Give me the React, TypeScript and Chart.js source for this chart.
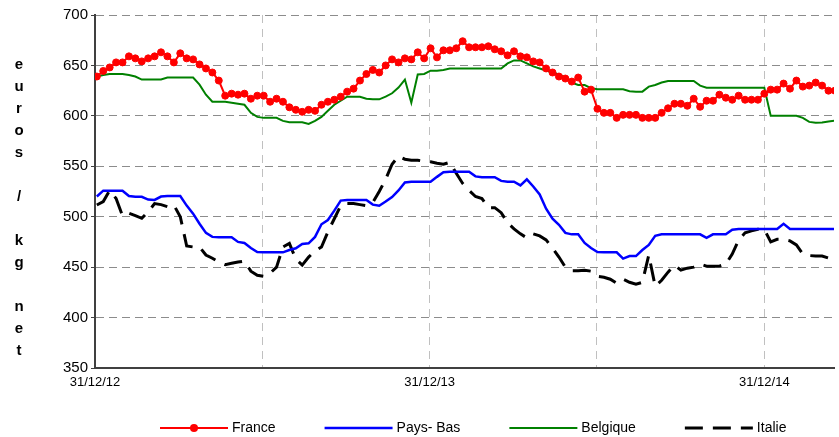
import { useEffect, useRef } from 'react';
import { Chart, registerables } from 'chart.js';

Chart.register(...registerables);

// x positions are days since 31/12/12; weekly observations start on day 2
const START_DAY = 2;
const WEEK_DAYS = 7;
const X_MIN = 0;
const X_MAX = 806;
const xTickDays = [0, 182.5, 365, 547.5, 730];
const xTickLabels = ['31/12/12', '', '31/12/13', '', '31/12/14'];
const yTicks = [350, 400, 450, 500, 550, 600, 650, 700];
const yTitle = 'euros / kg net';
const seriesNames = ['France', 'Pays- Bas', 'Belgique', 'Italie'];

const france = [
  639, 644.5, 648, 653, 653, 659, 657, 654, 657, 659, 663, 659, 653, 662, 657, 656, 651, 647, 643, 635,
  620, 622, 621, 622, 617, 620, 620, 614, 617,
  614, 608.5, 606, 604, 606, 605, 611, 614, 616, 619, 624, 627, 635, 641.5, 645.5, 643, 650, 656, 653, 657,
  656, 663, 657, 667, 658, 665, 665, 667, 674, 668, 668, 668, 669, 666, 664, 660, 664, 659, 658, 654, 653,
  647, 643,
  639, 637, 634, 638, 624, 626, 607, 603, 603, 598, 601, 601, 601, 598, 598, 598, 603, 607.5, 612, 612, 610,
  617, 609, 615, 615, 621, 618, 616, 620, 616, 616, 616, 622, 626, 626, 632, 627, 635, 629, 630, 633, 630,
  625, 625,
];

const paysBas = [
  520, 525.8, 525.8, 525.8, 525.8, 520.5, 519.8, 519.8, 517, 516.6, 520, 520.5, 520.5, 520.5, 511, 503, 493,
  484, 480, 479.6, 479.6, 479.6, 475, 474, 469, 465,
  464.7, 464.7, 464.7, 464.7,
  467, 468.7, 473, 473.6, 480, 492.5, 496.7, 506, 516, 516.6, 516.6, 516.6, 516.6, 512, 510.9, 515, 519.5,
  526, 534, 534.7, 534.7, 534.7, 534.7, 539.5, 544, 544.6, 544.6, 544.6, 544.6,
  540, 539.1, 539.1, 539.1, 535.5, 534.7, 534.7, 531, 537, 530, 522, 508, 498, 492, 484, 482.5, 482.5, 474,
  469, 465, 464.7, 464.7, 464.7, 458.5, 461, 461, 467, 472, 481,
  482.5, 482.5, 482.5, 482.5, 482.5, 482.5, 482.5, 479, 482.5, 482.5, 482.5, 487,
  487.8, 487.8, 487.8, 487.8, 487.8, 487.8, 487.8, 493,
  487.8, 487.8, 487.8, 487.8, 487.8, 487.8, 487.8, 487.8,
];

const belgique = [
  639, 640.5, 641.5, 641.5, 641.5, 640.5, 639, 636, 636, 636, 636, 638, 638, 638, 638, 638, 631, 621, 614,
  614, 614, 613, 612, 611, 603, 599, 598, 598, 598,
  595, 593.6, 593.6, 593.6, 592, 595, 599, 605, 611, 615, 619, 619, 619, 617, 616.4, 616.4, 619, 622.4, 628,
  636, 613, 641, 641.5, 644.8, 644.8, 645.5, 647, 647, 647, 647, 647, 647, 647, 647, 647, 652, 655, 655, 652,
  649,
  647, 645, 643, 641, 638, 633, 630.6, 630.6, 627.5, 626.3, 626.3, 626.3, 626.3, 626.3, 624.5, 624, 624, 629,
  630.6, 633, 634.6, 634.6, 634.6, 634.6, 634.6, 630,
  627.9, 627.9, 627.9, 627.9, 627.9, 627.9, 627.9, 627.9, 627.9, 627.9,
  600, 600, 600, 600, 600, 598, 594, 593.2, 593.5, 594.5, 595.2,
];

const italie = [
  511.6, 515, 526, 518, 501, 503.4, 501, 498.4, 505, 513, 512, 510, 511.6, 500,
  471, 470, 470, 462, 458.8, 455, 452.5, 453.8, 455, 456, 446, 442, 441, 444, 450,
  470, 473.6, 458, 452, 460, 466, 470, 485, 498, 511, 513, 513, 512, 511, 514, 525, 537, 552, 560, 557, 556,
  556, 555, 554.5, 553, 552, 554,
  543, 533, 526, 520, 518, 509, 509, 504, 494, 488, 483, 479, 483, 481, 477, 469, 460, 450, 446.5, 446.5,
  447, 446, 441, 440, 438, 434, 438, 435, 433, 435,
  462, 431, 437, 445, 452, 447, 449, 450, 453, 451, 451, 451, 453, 463, 477, 484, 486, 487.5, 487.5, 475,
  477.6, 477.6, 476, 472, 463, 461.5, 461, 461, 459, 457,
];

const toPoints = (arr: number[]) => arr.map((v, i) => ({ x: START_DAY + i * WEEK_DAYS, y: v }));

const FONT = '"Liberation Sans", Arial, Helvetica, sans-serif';

const yTitlePlugin = {
  id: 'yTitleStacked',
  afterDraw(chart: any) {
    const ctx = chart.ctx;
    ctx.save();
    ctx.font = 'bold 15px ' + FONT;
    ctx.fillStyle = '#000';
    ctx.textAlign = 'center';
    ctx.textBaseline = 'middle';
    const chars = Array.from(yTitle);
    const step = 22;
    const mid = (chart.chartArea.top + chart.chartArea.bottom) / 2 + 16;
    let y = mid - ((chars.length - 1) * step) / 2;
    for (const ch of chars) {
      if (ch !== ' ') ctx.fillText(ch, 19, y);
      y += step;
    }
    ctx.restore();
  },
};

const legendPlugin = {
  id: 'lineLegend',
  afterDraw(chart: any) {
    const ctx = chart.ctx;
    ctx.save();
    ctx.font = '14px ' + FONT;
    ctx.textBaseline = 'middle';
    const y = 428;
    const lineLen = 68;
    let x = 160;
    chart.data.datasets.forEach((ds: any) => {
      ctx.beginPath();
      ctx.setLineDash(ds.borderDash || []);
      ctx.strokeStyle = ds.borderColor;
      ctx.lineWidth = ds.borderWidth;
      ctx.moveTo(x, y);
      ctx.lineTo(x + lineLen, y);
      ctx.stroke();
      ctx.setLineDash([]);
      if (ds.pointRadius > 0) {
        ctx.beginPath();
        ctx.arc(x + lineLen / 2, y, 4, 0, Math.PI * 2);
        ctx.fillStyle = ds.pointBackgroundColor;
        ctx.fill();
      }
      ctx.fillStyle = '#000';
      ctx.fillText(ds.label, x + lineLen + 4, y);
      x += lineLen + 4 + ctx.measureText(ds.label).width + 49;
    });
    ctx.restore();
  },
};

export default function App() {
  const ref = useRef<HTMLCanvasElement | null>(null);

  useEffect(() => {
    if (!ref.current) return;
    const chart = new Chart(ref.current, {
      type: 'line',
      data: {
        datasets: [
          {
            label: seriesNames[0],
            data: toPoints(france),
            borderColor: '#ff0000',
            backgroundColor: '#ff0000',
            pointBackgroundColor: '#ff0000',
            pointBorderColor: '#ff0000',
            borderWidth: 2,
            pointRadius: 3.5,
            pointBorderWidth: 1,
            tension: 0,
          },
          {
            label: seriesNames[1],
            data: toPoints(paysBas),
            borderColor: '#0000ff',
            backgroundColor: '#0000ff',
            borderWidth: 2.5,
            pointRadius: 0,
            tension: 0,
          },
          {
            label: seriesNames[2],
            data: toPoints(belgique),
            borderColor: '#008000',
            backgroundColor: '#008000',
            borderWidth: 2,
            pointRadius: 0,
            tension: 0,
          },
          {
            label: seriesNames[3],
            data: toPoints(italie),
            borderColor: '#000000',
            backgroundColor: '#000000',
            borderWidth: 3,
            borderDash: [18, 10],
            pointRadius: 0,
            tension: 0,
          },
        ] as any,
      },
      options: {
        animation: false,
        responsive: false,
        devicePixelRatio: 1,
        events: [],
        layout: { padding: { top: 15, left: 0, right: 0, bottom: 0 } },
        plugins: {
          legend: { display: false },
          tooltip: { enabled: false },
          title: { display: false },
        },
        scales: {
          x: {
            type: 'linear',
            min: X_MIN,
            max: X_MAX,
            afterBuildTicks: (s: any) => {
              s.ticks = xTickDays.map((v) => ({ value: v }));
            },
            afterFit: (s: any) => {
              s.height = 69;
            },
            ticks: {
              autoSkip: false,
              maxRotation: 0,
              padding: 7,
              color: '#000',
              font: { family: FONT, size: 13 },
              callback: (v: any) => {
                const i = xTickDays.indexOf(Number(v));
                return i >= 0 ? xTickLabels[i] : '';
              },
            },
            grid: {
              color: '#c0c0c0',
              lineWidth: 1,
              drawTicks: false,
            },
            border: { display: true, color: '#404040', width: 2, dash: [8, 6] },
          },
          y: {
            type: 'linear',
            min: 350,
            max: 700,
            afterBuildTicks: (s: any) => {
              s.ticks = yTicks.map((v) => ({ value: v }));
            },
            afterFit: (s: any) => {
              s.width = 95;
            },
            ticks: {
              padding: 3,
              color: '#000',
              font: { family: FONT, size: 15 },
            },
            grid: {
              color: '#8c8c8c',
              lineWidth: 1,
              tickLength: 4,
              tickColor: '#404040',
              tickBorderDash: [],
            },
            border: { display: true, color: '#404040', width: 2, dash: [8, 5] },
          },
        },
      } as any,
      plugins: [yTitlePlugin, legendPlugin],
    });
    return () => chart.destroy();
  }, []);

  return (
    <div style={{ position: 'absolute', left: 0, top: 0, width: 839, height: 437, background: '#fff' }}>
      <canvas ref={ref} width={839} height={437} style={{ width: 839, height: 437, display: 'block' }} />
    </div>
  );
}
